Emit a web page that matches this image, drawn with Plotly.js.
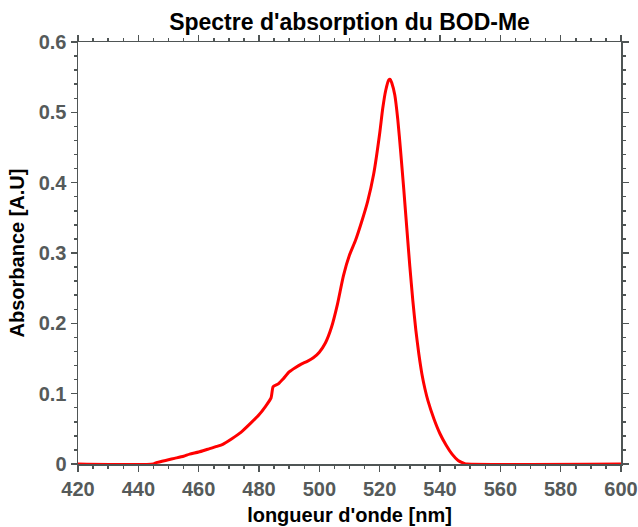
<!DOCTYPE html>
<html>
<head>
<meta charset="utf-8">
<script src="https://cdn.plot.ly/plotly-3.0.1.min.js"></script>
<style>html,body{margin:0;padding:0;background:#fff;}#chart{width:638px;height:527px;}</style>
</head>
<body>
<div id="chart"></div>
<script>
const wavelength = [420, 445, 446, 450, 452, 455, 457, 460, 463, 466, 468, 471, 474, 477, 480, 482, 484, 484.7, 486.4, 488, 490, 492, 494, 496, 498, 500, 502, 504, 506, 508, 510, 512, 514, 516, 518, 520, 521, 522, 523, 523.5, 524, 525, 526, 527, 528, 529, 530, 531, 532, 533, 534, 535, 536, 538, 540, 542, 544, 546, 548, 549, 600];
const absorbance = [0, 0, 0.002, 0.006, 0.008, 0.011, 0.014, 0.017, 0.021, 0.025, 0.028, 0.036, 0.045, 0.057, 0.070, 0.081, 0.094, 0.110, 0.114, 0.121, 0.131, 0.137, 0.142, 0.146, 0.151, 0.159, 0.172, 0.194, 0.227, 0.268, 0.297, 0.318, 0.344, 0.373, 0.412, 0.470, 0.505, 0.531, 0.546, 0.547, 0.542, 0.525, 0.490, 0.442, 0.390, 0.335, 0.281, 0.232, 0.190, 0.156, 0.128, 0.107, 0.090, 0.064, 0.043, 0.027, 0.014, 0.005, 0.001, 0, 0];
const titleText = "Spectre d'absorption du BOD-Me";
const xTitle = "longueur d'onde [nm]";
const yTitle = "Absorbance [A.U]";

const fontFam = 'Liberation Sans, Arial, Helvetica, sans-serif';
const axisColor = '#4f5555';
const tickFont = {family: fontFam, size: 20, color: '#555a5a', weight: 'bold'};
const common = {
  showline: true, linecolor: axisColor, linewidth: 1.5, mirror: 'allticks',
  ticks: 'outside', ticklen: 6, tickwidth: 1.5, tickcolor: axisColor,
  showgrid: false, zeroline: false, tickfont: tickFont, automargin: false
};

Plotly.newPlot('chart', [{
  x: wavelength, y: absorbance, type: 'scatter', mode: 'lines',
  line: {color: '#ff0000', width: 3, shape: 'spline', smoothing: 0.6},
  hoverinfo: 'skip'
}], {
  width: 638, height: 527,
  margin: {l: 78, r: 17, t: 42, b: 63},
  paper_bgcolor: '#ffffff', plot_bgcolor: '#ffffff',
  showlegend: false,
  title: {text: titleText, x: 0.5, xref: 'paper', y: 0.958, yref: 'container', yanchor: 'middle',
    font: {family: fontFam, size: 23, color: '#000', weight: 'bold'}},
  xaxis: Object.assign({}, common, {
    range: [420, 600], tickmode: 'linear', tick0: 420, dtick: 20,
    minor: {dtick: 5, ticks: 'outside', ticklen: 3, tickwidth: 1.5, tickcolor: axisColor},
    title: {text: xTitle, standoff: 9, font: {family: fontFam, size: 20, color: '#000', weight: 'bold'}}
  }),
  yaxis: Object.assign({}, common, {
    range: [0, 0.6], tickmode: 'linear', tick0: 0, dtick: 0.1,
    minor: {dtick: 0.02, ticks: 'outside', ticklen: 3, tickwidth: 1.5, tickcolor: axisColor},
    title: {text: yTitle, standoff: 8, font: {family: fontFam, size: 20, color: '#000', weight: 'bold'}}
  })
}, {displayModeBar: false, staticPlot: true});
</script>
</body>
</html>
